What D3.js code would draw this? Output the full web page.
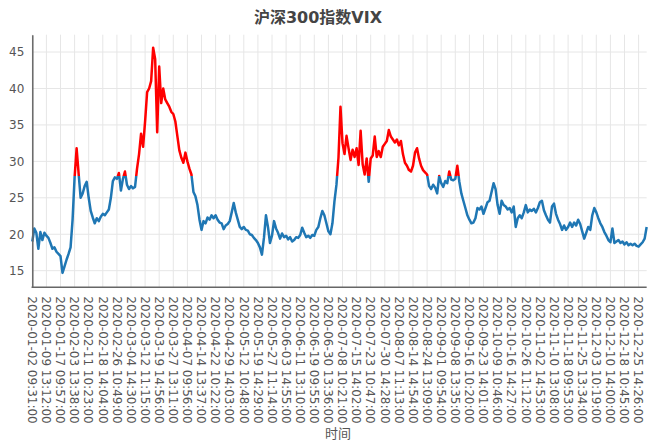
<!DOCTYPE html>
<html>
<head>
<meta charset="utf-8">
<script src="https://cdn.jsdelivr.net/npm/d3@7"></script>
<style>
  body { margin: 0; background: #fff; }
  text { font-family: "DejaVu Sans", "Noto Sans CJK SC", sans-serif; }
</style>
</head>
<body>
<div id="chart"></div>
<script>
// tick labels on the time axis (one every ~1333 minutes)
const tickLabels = [
  "2020-01-02 09:31:00", "2020-01-09 13:12:00", "2020-01-17 09:57:00", "2020-02-03 13:38:00",
  "2020-02-11 10:23:00", "2020-02-18 14:04:00", "2020-02-26 10:49:00", "2020-03-04 14:30:00",
  "2020-03-12 11:15:00", "2020-03-19 14:56:00", "2020-03-27 13:11:00", "2020-04-07 09:56:00",
  "2020-04-14 13:37:00", "2020-04-22 10:22:00", "2020-04-29 14:03:00", "2020-05-12 10:48:00",
  "2020-05-19 14:29:00", "2020-05-27 11:14:00", "2020-06-03 14:55:00", "2020-06-11 13:10:00",
  "2020-06-19 09:55:00", "2020-06-30 13:36:00", "2020-07-08 10:21:00", "2020-07-15 14:02:00",
  "2020-07-23 10:47:00", "2020-07-30 14:28:00", "2020-08-07 11:13:00", "2020-08-14 14:54:00",
  "2020-08-24 13:09:00", "2020-09-01 09:54:00", "2020-09-08 13:35:00", "2020-09-16 10:20:00",
  "2020-09-23 14:01:00", "2020-10-09 10:46:00", "2020-10-16 14:27:00", "2020-10-26 11:12:00",
  "2020-11-02 14:53:00", "2020-11-10 13:08:00", "2020-11-18 09:53:00", "2020-11-25 13:34:00",
  "2020-12-03 10:19:00", "2020-12-10 14:00:00", "2020-12-18 10:45:00", "2020-12-25 14:26:00"
];

// VIX readings, sampled 7 per tick interval
const samplesPerTick = 7;
const vix = [
  19.0, 20.8, 20.2, 18.0, 20.3, 19.2, 20.2, 19.8, 19.5, 18.8,
  18.0, 18.2, 17.6, 17.3, 17.0, 14.7, 15.6, 16.5, 17.3, 18.2,
  22.0, 27.8, 31.8, 28.3, 25.0, 25.6, 26.6, 27.2, 25.0, 23.2,
  22.3, 21.5, 22.2, 21.8, 22.4, 22.8, 22.6, 23.0, 23.4, 25.0,
  27.3, 27.8, 27.6, 28.4, 26.0, 27.6, 28.6, 26.8, 26.2, 26.6,
  26.3, 26.5, 29.0, 31.0, 33.8, 32.0, 35.5, 39.5, 40.0, 41.0,
  45.6, 44.0, 34.0, 43.0, 38.0, 40.0, 38.5, 38.0, 37.5, 36.8,
  36.5, 35.5, 33.5, 31.5, 30.5, 29.8, 31.2, 30.0, 29.0, 28.2,
  25.8, 25.2, 24.0, 22.0, 20.6, 21.8, 21.5, 22.3, 22.0, 22.6,
  22.2, 22.6, 22.0, 21.6, 21.5, 20.7, 21.2, 21.4, 21.8, 23.0,
  24.3, 23.0, 22.0, 21.0, 20.7, 21.0, 20.6, 20.5, 20.0, 19.9,
  19.5, 19.2, 18.8, 18.2, 17.2, 19.5, 22.6, 21.0, 18.8, 19.8,
  21.8, 20.8, 20.2, 19.4, 20.1, 19.6, 19.8, 19.3, 19.6, 19.0,
  19.2, 19.6, 19.5, 19.9, 20.9, 20.2, 19.6, 19.8, 19.5, 19.9,
  19.8, 20.6, 21.0, 22.2, 23.2, 22.6, 21.5, 20.4, 20.0, 21.5,
  24.5, 26.8, 30.5, 37.5, 32.5, 31.0, 33.5, 31.8, 30.2, 31.6,
  30.6, 31.8, 29.5, 34.2, 29.6, 28.2, 30.4, 27.2, 30.4, 30.8,
  33.4, 30.6, 31.4, 30.6, 32.0, 32.4, 32.8, 34.3, 33.4, 33.0,
  32.6, 33.0, 32.2, 32.8, 31.0, 29.8, 29.4, 28.8, 28.6, 29.4,
  31.2, 31.8, 30.4, 29.4, 28.8, 28.5, 28.2, 26.6, 26.2, 26.8,
  26.4, 25.6, 28.0, 27.0, 26.5, 27.3, 27.0, 28.6, 27.5, 27.4,
  27.6, 29.4, 27.2, 25.6, 24.6, 23.6, 22.6, 22.0, 21.5, 21.6,
  22.2, 23.6, 23.4, 23.8, 22.8, 23.6, 24.4, 24.6, 25.8, 27.0,
  26.2, 24.0, 22.8, 24.6, 24.0, 23.8, 23.4, 23.6, 23.0, 23.8,
  21.0, 22.2, 22.6, 22.2, 23.0, 24.0, 23.0, 23.4, 23.2, 23.5,
  23.0, 23.6, 24.4, 24.6, 23.3, 22.6, 22.0, 21.6, 23.8, 24.2,
  22.8, 22.0, 21.4, 20.6, 21.2, 20.6, 21.0, 21.6, 21.0, 21.6,
  21.2, 22.0, 21.4, 20.4, 19.4, 20.2, 21.0, 20.6, 22.6, 23.6,
  23.0, 22.2, 21.5, 21.0, 20.3, 19.8, 19.2, 18.9, 20.8, 18.8,
  19.0, 19.2, 18.8, 19.0, 18.6, 18.9, 18.5, 18.7, 18.5, 18.7,
  18.4, 18.3, 18.6, 18.9, 19.4, 21.0
];

const yTicks = [15, 20, 25, 30, 35, 40, 45];
const threshold = 28;

const width = 648, height = 446;
const svg = d3.select("#chart").append("svg")
  .attr("width", width)
  .attr("height", height);

svg.append("rect").attr("width", width).attr("height", height).attr("fill", "#fff");

const lastPos = (vix.length - 1) / samplesPerTick;
const x = d3.scaleLinear()
  .domain([0, tickLabels.length - 1])
  .range([32.3, 638.6]);
const y = d3.scaleLinear()
  .domain([12.72, 47.38])
  .range([287.3, 34.7]);

const left = x(0), right = x(lastPos);

// grid
svg.append("g").selectAll("line")
  .data(yTicks)
  .join("line")
  .attr("x1", left).attr("x2", right)
  .attr("y1", d => y(d)).attr("y2", d => y(d))
  .attr("stroke", "#e6e6e6").attr("stroke-width", 1);

svg.append("g").selectAll("line")
  .data(tickLabels)
  .join("line")
  .attr("x1", (d, i) => x(i)).attr("x2", (d, i) => x(i))
  .attr("y1", y.range()[1]).attr("y2", y.range()[0])
  .attr("stroke", "#e6e6e6").attr("stroke-width", 1);

// clip areas for the two colours
const defs = svg.append("defs");
defs.append("clipPath").attr("id", "clipLow")
  .append("rect")
  .attr("x", 0).attr("width", width)
  .attr("y", y(threshold)).attr("height", height - y(threshold));
defs.append("clipPath").attr("id", "clipHigh")
  .append("rect")
  .attr("x", 0).attr("width", width)
  .attr("y", 0).attr("height", y(threshold));

const line = d3.line()
  .x((d, i) => x(i / samplesPerTick))
  .y(d => y(d));

svg.append("path")
  .datum(vix)
  .attr("d", line)
  .attr("fill", "none")
  .attr("stroke", "#1f77b4")
  .attr("stroke-width", 2.5)
  .attr("stroke-linejoin", "round")
  .attr("clip-path", "url(#clipLow)");

svg.append("path")
  .datum(vix)
  .attr("d", line)
  .attr("fill", "none")
  .attr("stroke", "#ff0000")
  .attr("stroke-width", 2.5)
  .attr("stroke-linejoin", "round")
  .attr("clip-path", "url(#clipHigh)");

// axes
const yAxis = svg.append("g")
  .attr("transform", `translate(${left},0)`)
  .call(d3.axisLeft(y).tickValues(yTicks).tickSize(0).tickPadding(8));
yAxis.select(".domain").attr("stroke", "#666").attr("stroke-width", 1.5);
yAxis.selectAll("text").attr("font-size", 12).attr("fill", "#555")
  .style("font-family", "DejaVu Sans");

const xAxis = svg.append("g")
  .attr("transform", `translate(0,${y.range()[0]})`);
xAxis.append("line")
  .attr("x1", left - 0.75).attr("x2", right)
  .attr("stroke", "#666").attr("stroke-width", 1.5);
xAxis.selectAll("text")
  .data(tickLabels)
  .join("text")
  .attr("transform", (d, i) => `translate(${x(i)},9) rotate(90)`)
  .attr("dy", "0.35em")
  .attr("text-anchor", "start")
  .attr("font-size", 12)
  .attr("fill", "#555")
  .text(d => d);

// titles
svg.append("text")
  .attr("x", 318).attr("y", 23)
  .attr("text-anchor", "middle")
  .attr("font-size", 16)
  .attr("font-weight", "bold")
  .attr("fill", "#444")
  .text("沪深300指数VIX");

svg.append("text")
  .attr("x", 338).attr("y", 438)
  .attr("text-anchor", "middle")
  .attr("font-size", 13)
  .attr("fill", "#555")
  .text("时间");
</script>
</body>
</html>
